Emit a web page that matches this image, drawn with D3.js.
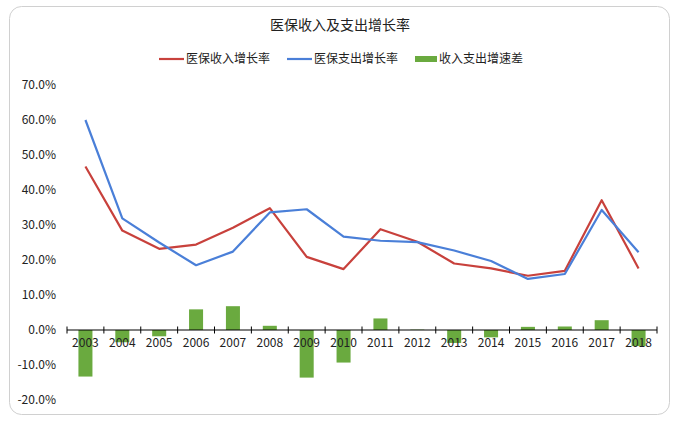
<!DOCTYPE html>
<html>
<head>
<meta charset="utf-8">
<script src="https://cdn.jsdelivr.net/npm/d3@7"></script>
<style>
  body { margin: 0; background: #fff; }
  text { font-family: "Noto Sans CJK SC", "Noto Sans", sans-serif; fill: #222; }
</style>
</head>
<body>
<div id="chart"></div>
<script>
// data
var years = ["2003","2004","2005","2006","2007","2008","2009","2010","2011","2012","2013","2014","2015","2016","2017","2018"];
var income = [46.7, 28.4, 23.2, 24.4, 29.2, 34.8, 20.9, 17.4, 28.8, 25.2, 19.0, 17.6, 15.5, 16.9, 37.1, 17.6];
var spend = [60.0, 31.9, 25.0, 18.5, 22.4, 33.6, 34.5, 26.7, 25.5, 25.1, 22.7, 19.7, 14.6, 16.0, 34.3, 22.2];
var diff = [-13.3, -3.5, -1.8, 5.9, 6.8, 1.2, -13.6, -9.3, 3.3, 0.1, -3.7, -2.1, 0.9, 1.0, 2.8, -4.6];
var yTicks = [-20, -10, 0, 10, 20, 30, 40, 50, 60, 70];
var seriesNames = ["医保收入增长率", "医保支出增长率", "收入支出增速差"];
var colors = ["#c8413c", "#4a7fd8", "#6aaa3f"];

var W = 683, H = 423;
var svg = d3.select("#chart").append("svg")
    .attr("width", W)
    .attr("height", H);

// frame
svg.append("rect")
    .attr("x", 9.5).attr("y", 6.5)
    .attr("width", 660).attr("height", 408)
    .attr("rx", 12).attr("ry", 12)
    .attr("fill", "#fff")
    .attr("stroke", "#d0d0d0");

var x = d3.scaleBand().domain(years).range([67, 657]);
var y = d3.scaleLinear().domain([-20, 70]).range([400, 85]);

// y labels (no axis line)
svg.append("g")
    .selectAll("text")
    .data(yTicks)
    .enter()
    .append("text")
    .attr("x", 56)
    .attr("y", function(d) { return y(d); })
    .attr("dy", "0.35em")
    .attr("text-anchor", "end")
    .attr("font-size", 12)
    .text(function(d) { return d.toFixed(1) + "%"; });

// bars
svg.append("g")
    .selectAll("rect")
    .data(diff)
    .enter()
    .append("rect")
    .attr("x", function(d, i) { return x(years[i]) + x.bandwidth() * 0.31; })
    .attr("width", x.bandwidth() * 0.38)
    .attr("y", function(d) { return y(Math.max(0, d)); })
    .attr("height", function(d) { return Math.abs(y(d) - y(0)); })
    .attr("fill", colors[2]);

// x axis with ticks between categories
var axisG = svg.append("g");
axisG.append("line")
    .attr("x1", 67).attr("x2", 657)
    .attr("y1", y(0)).attr("y2", y(0))
    .attr("stroke", "#000");
var bounds = years.map(function(d) { return x(d); }).concat([657]);
axisG.selectAll(".tk")
    .data(bounds)
    .enter()
    .append("line")
    .attr("x1", function(d) { return d; })
    .attr("x2", function(d) { return d; })
    .attr("y1", y(0) - 3.5)
    .attr("y2", y(0) + 3.5)
    .attr("stroke", "#000");
axisG.selectAll("text")
    .data(years)
    .enter()
    .append("text")
    .attr("x", function(d) { return x(d) + x.bandwidth() / 2; })
    .attr("y", y(0) + 17)
    .attr("text-anchor", "middle")
    .attr("font-size", 12)
    .text(function(d) { return d; });

// lines
var line = d3.line()
    .x(function(d, i) { return x(years[i]) + x.bandwidth() / 2; })
    .y(function(d) { return y(d); });

[income, spend].forEach(function(s, k) {
    svg.append("path")
        .datum(s)
        .attr("d", line)
        .attr("fill", "none")
        .attr("stroke", colors[k])
        .attr("stroke-width", 2.2)
        .attr("stroke-linejoin", "round");
});

// title
svg.append("text")
    .attr("x", 340).attr("y", 30)
    .attr("text-anchor", "middle")
    .attr("font-size", 14)
    .text("医保收入及支出增长率");

// legend
var legX = [159, 287, 415];
var leg = svg.append("g");
seriesNames.forEach(function(n, k) {
    if (k < 2) {
        leg.append("line")
            .attr("x1", legX[k]).attr("x2", legX[k] + 25)
            .attr("y1", 59).attr("y2", 59)
            .attr("stroke", colors[k])
            .attr("stroke-width", 2.2);
    } else {
        leg.append("rect")
            .attr("x", legX[k]).attr("y", 56)
            .attr("width", 22).attr("height", 6)
            .attr("fill", colors[k]);
    }
    leg.append("text")
        .attr("x", legX[k] + (k < 2 ? 27 : 24))
        .attr("y", 59)
        .attr("dy", "0.35em")
        .attr("font-size", 12)
        .text(n);
});
</script>
</body>
</html>
